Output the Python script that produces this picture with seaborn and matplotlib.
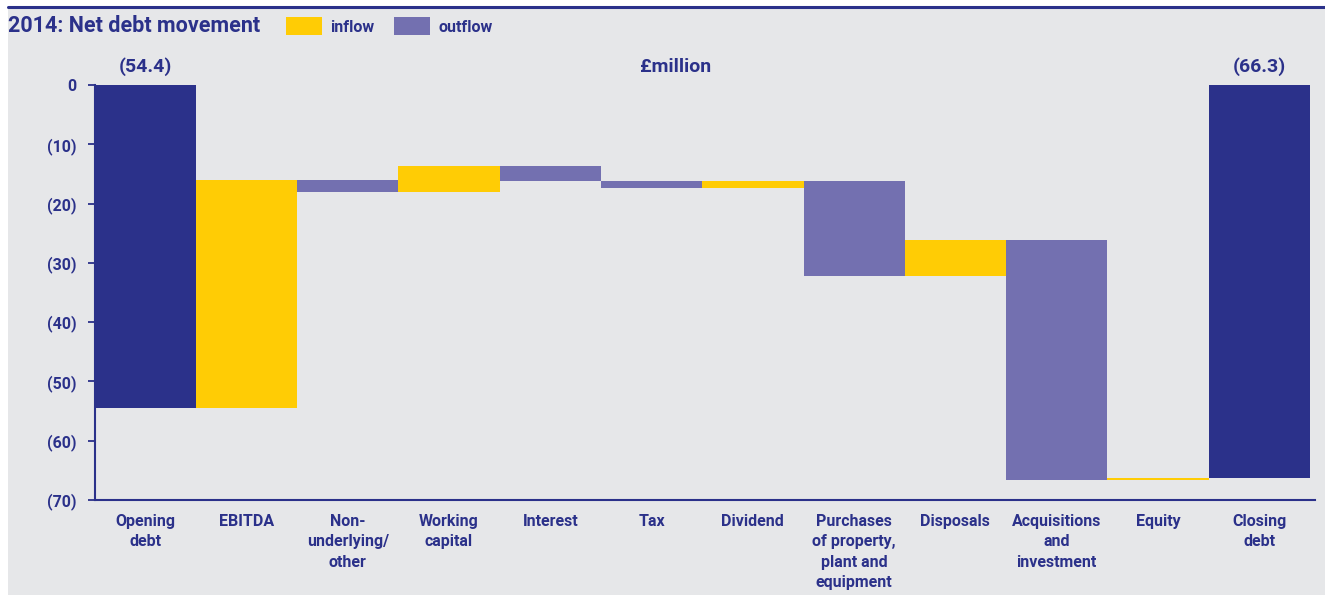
import numpy as np
import pandas as pd
import matplotlib
matplotlib.use("Agg")
import matplotlib.pyplot as plt
from matplotlib.patches import Rectangle
from matplotlib.lines import Line2D
import seaborn as sns

# ---- data ----
categories = ["Opening\ndebt", "EBITDA", "Non-\nunderlying/\nother", "Working\ncapital",
              "Interest", "Tax", "Dividend", "Purchases\nof property,\nplant and\nequipment",
              "Disposals", "Acquisitions\nand\ninvestment", "Equity", "Closing\ndebt"]
kinds = ["total", "inflow", "outflow", "inflow", "outflow", "outflow", "inflow",
         "outflow", "inflow", "outflow", "inflow", "total"]
# magnitudes (£million); debt shown as positive downward
amounts = [54.4, 38.4, 2.0, 4.3, 2.5, 1.1, 1.1, 16.1, 6.2, 40.6, 0.4, 66.3]
yticks = [0, 10, 20, 30, 40, 50, 60, 70]
ytick_labels = ["0", "(10)", "(20)", "(30)", "(40)", "(50)", "(60)", "(70)"]
opening_label = "(54.4)"
closing_label = "(66.3)"

NAVY = "#2B318A"
YELLOW = "#FFCC05"
PURPLE = "#7370B0"
BG = "#E6E7E9"
color_map = {"total": NAVY, "inflow": YELLOW, "outflow": PURPLE}

# waterfall bottoms from running debt level
bottoms, heights = [], []
level = 0.0
for k, a in zip(kinds, amounts):
    if k == "total":
        bottoms.append(0.0); heights.append(a); level = a
    elif k == "inflow":
        new = level - a
        bottoms.append(new); heights.append(a); level = new
    else:
        bottoms.append(level); heights.append(a); level = level + a

df = pd.DataFrame({"cat": categories, "h": heights, "b": bottoms})

sns.set_style("white")
plt.rcParams["font.family"] = ["Roboto", "DejaVu Sans"]
plt.rcParams["font.weight"] = "bold"

W, H = 1325, 595
fig = plt.figure(figsize=(W / 100, H / 100), dpi=100, facecolor="white")
# grey panel + top rule
fig.patches.append(Rectangle((8 / W, 0), 1 - 8 / W, 1 - 8 / H, transform=fig.transFigure,
                             facecolor=BG, edgecolor="none", zorder=-10))
fig.lines.append(Line2D([8 / W, 1], [1 - 7 / H, 1 - 7 / H], transform=fig.transFigure,
                        color=NAVY, lw=2.2, zorder=1))

left, right = 94.5, 1315
top, bottom = 85, 500
ax = fig.add_axes([left / W, 1 - bottom / H, (right - left) / W, (bottom - top) / H])
ax.patch.set_alpha(0)
ax.set_zorder(5)

sns.barplot(data=df, x="cat", y="h", bottom=df["b"].values, width=1.0, color=NAVY,
            edgecolor="none", linewidth=0, saturation=1, ax=ax, errorbar=None)
for p, k in zip(ax.patches, kinds):
    p.set_facecolor(color_map[k])

ax.set_ylim(70, 0)
ax.set_xlim(-0.5, 11.55)
ax.set_yticks(yticks)
ax.set_yticklabels(ytick_labels)
ax.set_xlabel("")
ax.set_ylabel("")
for s in ["top", "right"]:
    ax.spines[s].set_visible(False)
for s in ["left", "bottom"]:
    ax.spines[s].set_color(NAVY)
    ax.spines[s].set_linewidth(1.5)
ax.tick_params(axis="y", length=5, width=1.3, color=NAVY, labelcolor=NAVY,
               labelsize=11.5, pad=8, direction="out", left=True)
ax.tick_params(axis="x", length=0, labelcolor=NAVY, labelsize=11.5, pad=10)
for t in ax.get_yticklabels() + ax.get_xticklabels():
    t.set_fontweight("bold")
for t in ax.get_xticklabels():
    t.set_linespacing(1.45)
    t.set_verticalalignment("top")

# annotations above chart
ax.text(0, -1.5, opening_label, ha="center", va="bottom", fontsize=14,
        color=NAVY, fontweight="bold")
ax.text(11, -1.5, closing_label, ha="center", va="bottom", fontsize=14,
        color=NAVY, fontweight="bold")
fig.text(676 / W, 1 - 67 / H, "£million", ha="center", va="center", fontsize=14,
         color=NAVY, fontweight="bold")

# title and legend
fig.text(8 / W, 1 - 26 / H, "2014: Net debt movement", ha="left", va="center",
         fontsize=15.5, color=NAVY, fontweight="bold")
fig.patches.append(Rectangle((286 / W, 1 - 35 / H), 36 / W, 18 / H, transform=fig.transFigure,
                             facecolor=YELLOW, edgecolor="none"))
fig.text(330 / W, 1 - 27 / H, "inflow", ha="left", va="center", fontsize=11.5,
         color=NAVY, fontweight="bold")
fig.patches.append(Rectangle((394 / W, 1 - 35 / H), 36 / W, 18 / H, transform=fig.transFigure,
                             facecolor=PURPLE, edgecolor="none"))
fig.text(438 / W, 1 - 27 / H, "outflow", ha="left", va="center", fontsize=11.5,
         color=NAVY, fontweight="bold")

fig.savefig("out.png", dpi=100, facecolor=fig.get_facecolor())
